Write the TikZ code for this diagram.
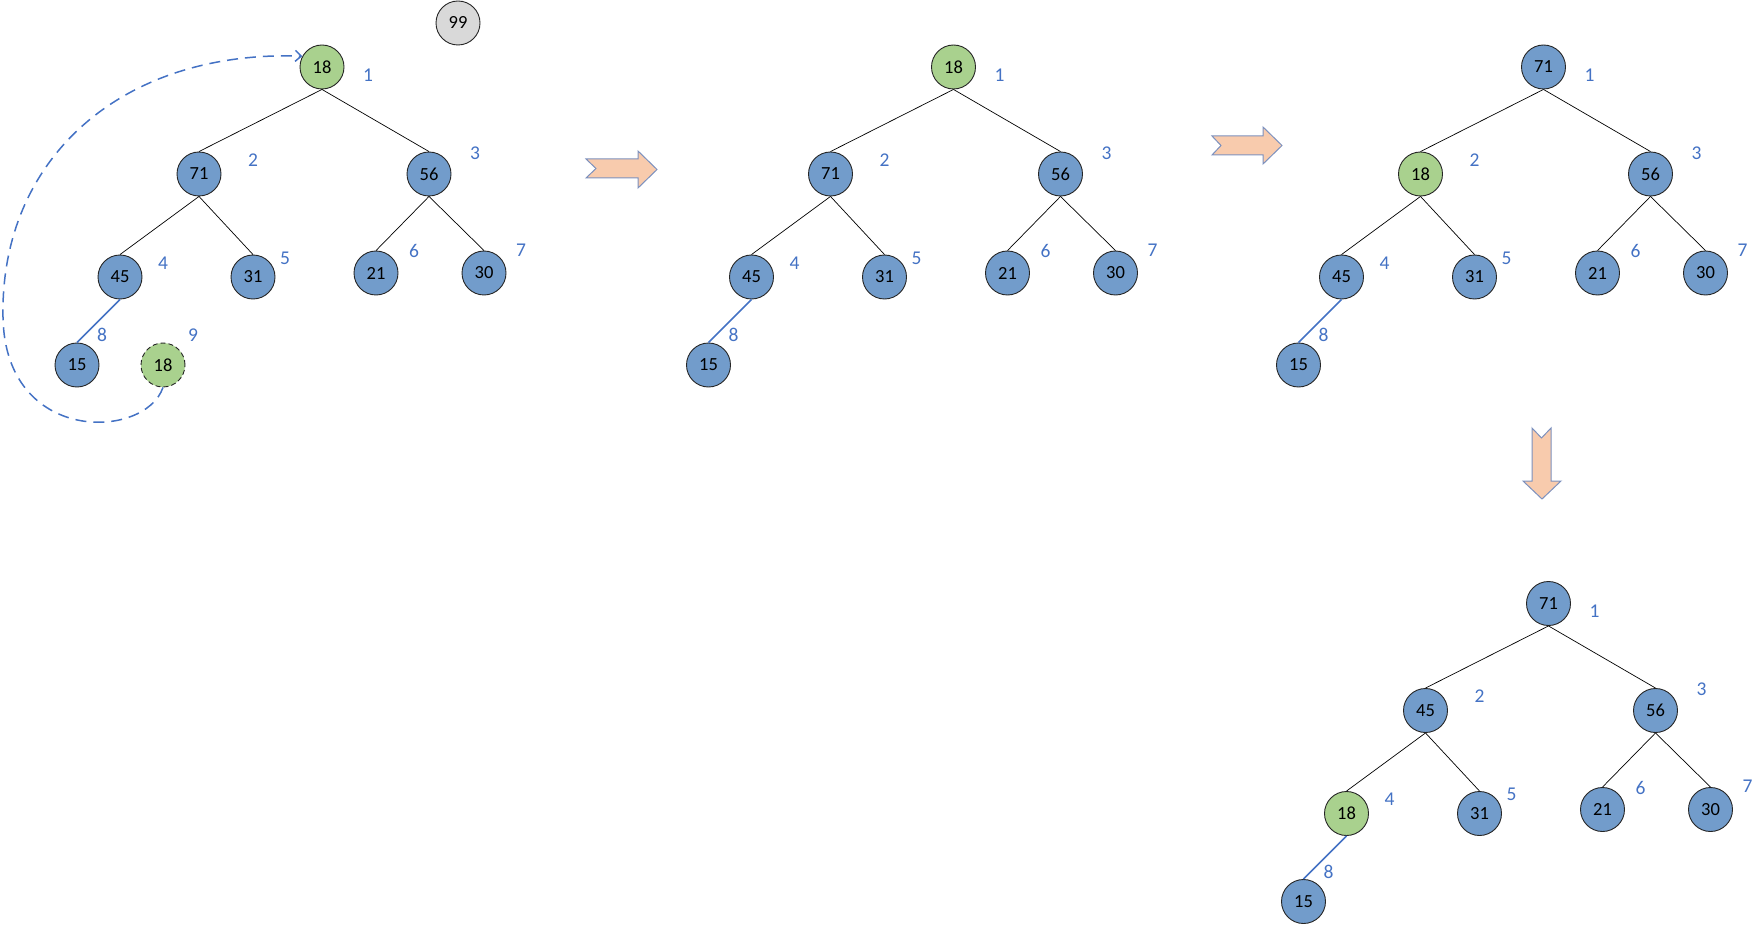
\documentclass[tikz,border=0pt]{standalone}
\usepackage{fontspec}
\setmainfont{Carlito}
\usetikzlibrary{arrows.meta}
\definecolor{nblue}{RGB}{114,156,203}
\definecolor{ngreen}{HTML}{A9D18E}
\definecolor{ngray}{HTML}{D9D9D9}
\definecolor{lblue}{HTML}{4472C4}
\definecolor{afill}{HTML}{F8CBAD}
\definecolor{aline}{RGB}{125,145,190}
\newcommand\heaptree[9]{%
  \node[hn,v#2] (#1a) at (322,67) {#2};
  \node[hn,v#3] (#1b) at (199,174) {#3};
  \node[hn,v#4] (#1c) at (429,174) {#4};
  \node[hn,v#5] (#1d) at (120,277) {#5};
  \node[hn,v#6] (#1e) at (253,277) {#6};
  \node[hn,v#7] (#1f) at (376,273) {#7};
  \node[hn,v#8] (#1g) at (484,273) {#8};
  \node[hn,v#9] (#1h) at (77,365) {#9};
  \node[idx] (#1l1) at (368,75) {1};
  \node[idx] (#1l2) at (253,160) {2};
  \node[idx] (#1l3) at (475,153) {3};
  \node[idx] (#1l4) at (163,263) {4};
  \node[idx] (#1l5) at (285,258) {5};
  \node[idx] (#1l6) at (414,251) {6};
  \node[idx] (#1l7) at (521,250) {7};
  \node[idx] (#1l8) at (102,335) {8};
  \draw[tedge] (#1a.south) -- (#1b.north);
  \draw[tedge] (#1a.south) -- (#1c.north);
  \draw[tedge] (#1b.south) -- (#1d.north);
  \draw[tedge] (#1b.south) -- (#1e.north);
  \draw[tedge] (#1c.south) -- (#1f.north);
  \draw[tedge] (#1c.south) -- (#1g.north);
  \draw[bedge] (#1d.south) -- (#1h.north);
}
\begin{document}
\begin{tikzpicture}[x=1pt,y=-1pt,
  hn/.style={circle,draw=black!85,line width=0.9pt,minimum size=44pt,inner sep=0pt,font=\fontsize{18.5}{18.5}\selectfont},
  v15/.style={fill=nblue}, v21/.style={fill=nblue}, v30/.style={fill=nblue},
  v31/.style={fill=nblue}, v45/.style={fill=nblue}, v56/.style={fill=nblue},
  v71/.style={fill=nblue}, v18/.style={fill=ngreen}, v99/.style={fill=ngray},
  idx/.style={text=lblue,font=\fontsize{19.5}{19.5}\selectfont,inner sep=0pt},
  tedge/.style={draw=black,line width=0.7pt},
  bedge/.style={draw=lblue,line width=1.6pt},
  blockarrow/.style={fill=afill,draw=aline,line width=1pt,line join=miter}]
\useasboundingbox (0,0) rectangle (1764,925);
% tree 1
\heaptree{t1}{18}{71}{56}{45}{31}{21}{30}{15}
\node[hn,v99] (t1z) at (458,23) {99};
\node[hn,v18,dash pattern=on 5pt off 3pt] (t1i) at (163,365) {18};
\node[idx] (t1l9) at (193,335) {9};
\draw[lblue,line width=1.5pt,dash pattern=on 11pt off 7pt,-{Straight Barb[length=6pt,width=11pt]}]
  (t1i.south) .. controls (145,440) and (5,445) .. (3,317)
  .. controls (0,160) and (120,50) .. (t1a.151);
% tree 2
\begin{scope}[shift={(631.5,0)}]
\heaptree{t2}{18}{71}{56}{45}{31}{21}{30}{15}
\end{scope}
% tree 3
\begin{scope}[shift={(1221.5,0)}]
\heaptree{t3}{71}{18}{56}{45}{31}{21}{30}{15}
\end{scope}
% tree 4
\begin{scope}[shift={(1226.5,536.5)}]
\heaptree{t4}{71}{45}{56}{18}{31}{21}{30}{15}
\end{scope}
% block arrows
\draw[blockarrow] (586,159) -- (638,159) -- (638,151) -- (657,169.5) -- (638,188) -- (638,178) -- (586,178) -- (596,168.5) -- cycle;
\draw[blockarrow] (1212,136) -- (1263,136) -- (1263,127) -- (1282,145.5) -- (1263,164) -- (1263,155) -- (1212,155) -- (1221,145.5) -- cycle;
\draw[blockarrow] (1532,428) -- (1541.5,438) -- (1551,428) -- (1551,481) -- (1561,481) -- (1542,499) -- (1523,481) -- (1532,481) -- cycle;
\end{tikzpicture}
\end{document}
